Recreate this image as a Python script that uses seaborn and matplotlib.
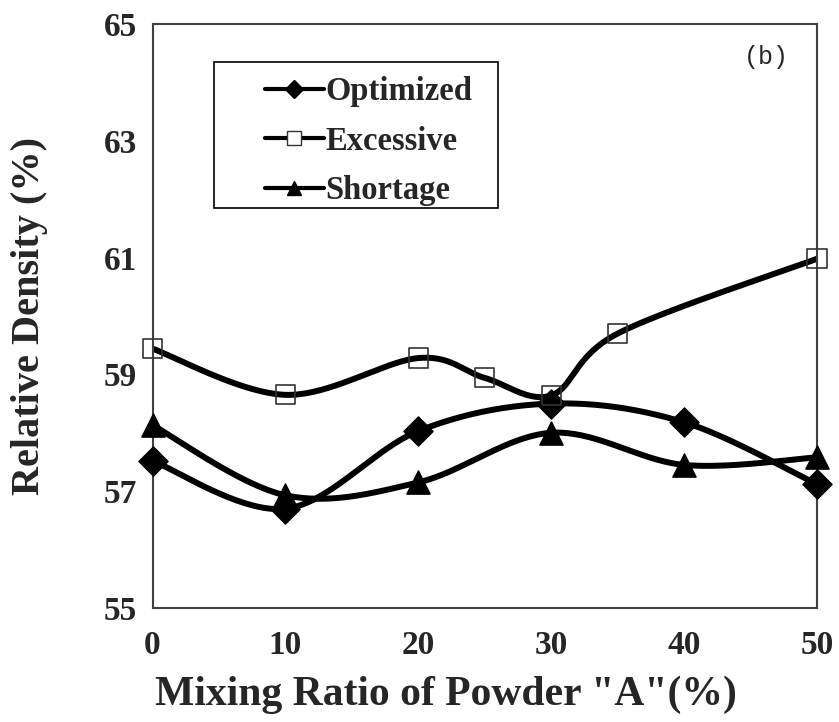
import numpy as np
import pandas as pd
import matplotlib
matplotlib.use("Agg")
import matplotlib.pyplot as plt
import seaborn as sns
from matplotlib.lines import Line2D
from matplotlib.patches import Rectangle

# Relative density vs. mixing ratio of powder "A"
ratio_common = [0, 10, 20, 30, 40, 50]
ratio_excessive = [0, 10, 20, 25, 30, 35, 50]
optimized = [57.52, 56.70, 58.03, 58.50, 58.18, 57.12]
excessive = [59.44, 58.65, 59.28, 58.94, 58.64, 59.70, 60.98]
shortage = [58.13, 56.93, 57.15, 58.00, 57.45, 57.58]

series_names = ["Optimized", "Excessive", "Shortage"]
x_ticks = [0, 10, 20, 30, 40, 50]
y_ticks = [55, 57, 59, 61, 63, 65]


def smooth_curve(xs, ys, n=40):
    """Piecewise cubic Bezier through the points (spreadsheet-style smoothing)."""
    p = np.column_stack([xs, ys]).astype(float)
    ext = np.vstack([p[0], p, p[-1]])
    out = []
    t = np.linspace(0, 1, n)[:, None]
    for i in range(len(p) - 1):
        p0, p1 = ext[i + 1], ext[i + 2]
        c1 = p0 + (ext[i + 2] - ext[i]) / 6.0
        c2 = p1 - (ext[i + 3] - ext[i + 1]) / 6.0
        seg = ((1 - t) ** 3) * p0 + 3 * ((1 - t) ** 2) * t * c1 + 3 * (1 - t) * t ** 2 * c2 + t ** 3 * p1
        out.append(seg if i == 0 else seg[1:])
    return np.vstack(out)


frames = []
for name, xs, ys in [("Optimized", ratio_common, optimized),
                     ("Excessive", ratio_excessive, excessive),
                     ("Shortage", ratio_common, shortage)]:
    c = smooth_curve(xs, ys)
    frames.append(pd.DataFrame({"series": name, "x": c[:, 0], "y": c[:, 1]}))
curves = pd.concat(frames, ignore_index=True)

sns.set_theme(style="white")
plt.rcParams["font.family"] = ["Liberation Serif", "DejaVu Serif"]
plt.rcParams["font.weight"] = "bold"

W, H = 839, 722
fig = plt.figure(figsize=(W / 100, H / 100), dpi=100)
ax_l, ax_r, ax_t, ax_b = 152.5, 817, 24, 608
ax = fig.add_axes([ax_l / W, 1 - ax_b / H, (ax_r - ax_l) / W, (ax_b - ax_t) / H])


def px_to_axes(px, py):
    return (px - ax_l) / (ax_r - ax_l), (ax_b - py) / (ax_b - ax_t)


sns.lineplot(data=curves, x="x", y="y", hue="series", units="series",
             estimator=None, sort=False, palette=["black"] * 3,
             linewidth=4.3, legend=False, ax=ax, zorder=2)

ax.scatter(ratio_common, optimized, marker="D", s=220, color="black",
           zorder=3, clip_on=False)
ax.scatter(ratio_excessive, excessive, marker="s", s=190, facecolor="none",
           edgecolor="#333333", linewidths=1.2, zorder=3, clip_on=False)
ax.scatter(ratio_common, shortage, marker="^", s=280, color="black",
           zorder=3, clip_on=False)

ax.set_xlim(0, 50)
ax.set_ylim(55, 65)
ax.set_xticks(x_ticks)
ax.set_yticks(y_ticks)
ax.tick_params(axis="both", direction="in", length=8, width=1.3, color="#404040",
               labelsize=24)
ax.tick_params(axis="y", pad=11)
ax.tick_params(axis="x", pad=16)
for lab in ax.get_xticklabels() + ax.get_yticklabels():
    lab.set_fontweight("bold")

for s in ax.spines.values():
    s.set_visible(True)
    s.set_color("#404040")
    s.set_linewidth(1.5)

ax.set_xlabel('Mixing Ratio of Powder "A"(%)', fontsize=30, fontweight="bold")
ax.set_ylabel("Relative Density (%)", fontsize=29, fontweight="bold")
ax.xaxis.set_label_coords(*px_to_axes(446, 676))
ax.yaxis.set_label_coords(*px_to_axes(48, 316))

ax.text(*px_to_axes(766, 57), "(b)", transform=ax.transAxes, fontsize=18,
        family="Liberation Mono", fontweight="normal", ha="center", va="center")

# legend frame and entries
bx0, by0 = px_to_axes(214, 208)
bx1, by1 = px_to_axes(498, 62)
ax.add_patch(Rectangle((bx0, by0), bx1 - bx0, by1 - by0, transform=ax.transAxes,
                       facecolor="white", edgecolor="black", linewidth=1.2,
                       zorder=4, clip_on=False))
handles = [
    Line2D([], [], color="black", lw=3, marker="D", markersize=9),
    Line2D([], [], color="black", lw=3, marker="s", markersize=10,
           markerfacecolor="white", markeredgecolor="#333333", markeredgewidth=1),
    Line2D([], [], color="black", lw=3, marker="^", markersize=10),
]
leg = ax.legend(handles, series_names, loc="upper left",
                bbox_to_anchor=px_to_axes(265, 76),
                borderaxespad=0, borderpad=0, frameon=False, handlelength=1.8,
                handletextpad=0.05, labelspacing=0.57,
                prop={"family": "Liberation Serif", "weight": "bold", "size": 23.5})
leg.set_zorder(5)

fig.savefig("out.png", dpi=100)
